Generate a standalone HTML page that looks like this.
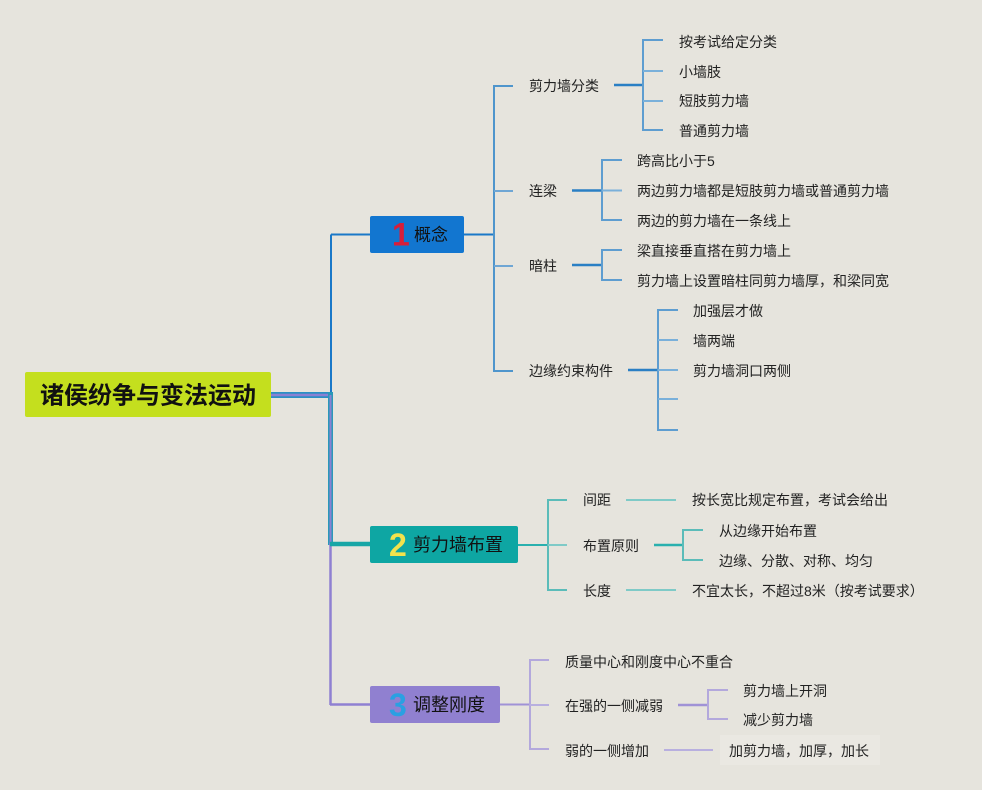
<!DOCTYPE html>
<html><head><meta charset="utf-8"><style>
html,body{margin:0;padding:0;background:#e6e4dd;}
svg{display:block;}
text{font-family:"Liberation Sans","Noto Sans CJK SC",sans-serif;fill:#222;}
.t{font-size:14px;}
</style></head><body>
<svg width="982" height="790" viewBox="0 0 982 790" xmlns="http://www.w3.org/2000/svg">
<rect width="982" height="790" fill="#e6e4dd"/>

<!-- root connector -->
<line x1="331" y1="234.5" x2="331" y2="395" stroke="#1a78c8" stroke-width="2"/>
<rect x="271" y="392" width="62" height="6" fill="#2b8fc4"/>
<line x1="271" y1="395" x2="331" y2="395" stroke="#8a80d2" stroke-width="2.5"/>
<rect x="328" y="392" width="5" height="153" fill="#2b98b8"/>
<line x1="330.5" y1="395" x2="330.5" y2="543" stroke="#8a80d2" stroke-width="2"/>
<line x1="330.5" y1="543" x2="330.5" y2="705" stroke="#8f80d2" stroke-width="2.5"/>
<line x1="331" y1="234.5" x2="371" y2="234.5" stroke="#1a78c8" stroke-width="2"/>
<line x1="330" y1="544" x2="371" y2="544" stroke="#17a6a6" stroke-width="4.5"/>
<line x1="330" y1="704.5" x2="371" y2="704.5" stroke="#8f80d2" stroke-width="2.5"/>

<!-- root -->
<rect x="25" y="372" width="246" height="45" rx="2" fill="#c4df1e"/>
<text x="148" y="396" font-size="24" font-weight="bold" text-anchor="middle" dominant-baseline="central" style="fill:#111">诸侯纷争与变法运动</text>

<!-- node 1 -->
<rect x="370" y="216" width="94" height="37" rx="2" fill="#1276d0"/>
<text x="392" y="234.5" font-size="32" font-weight="bold" dominant-baseline="central" style="fill:#d81e3a">1</text>
<text x="414" y="235" font-size="17" dominant-baseline="central" style="fill:#111">概念</text>

<!-- node 2 -->
<rect x="370" y="526" width="148" height="37" rx="2" fill="#0ea6a3"/>
<text x="389" y="545" font-size="32" font-weight="bold" dominant-baseline="central" style="fill:#f2e24c">2</text>
<text x="413" y="545" font-size="18" dominant-baseline="central" style="fill:#111">剪力墙布置</text>

<!-- node 3 -->
<rect x="370" y="686" width="130" height="37" rx="2" fill="#9080d0"/>
<text x="389" y="705" font-size="32" font-weight="bold" dominant-baseline="central" style="fill:#2aa0e2">3</text>
<text x="413" y="705" font-size="18" dominant-baseline="central" style="fill:#111">调整刚度</text>

<!-- branch 1 -->
<g fill="none">
<line x1="464" y1="234.5" x2="494" y2="234.5" stroke="#1a78c8" stroke-width="2"/>
<polyline points="513,86 494,86 494,371 513,371" stroke="#4f95cc" stroke-width="2"/>
<line x1="494" y1="191" x2="513" y2="191" stroke="#6fa6d4" stroke-width="2"/>
<line x1="494" y1="266" x2="513" y2="266" stroke="#6fa6d4" stroke-width="2"/>

<line x1="614" y1="85" x2="643" y2="85" stroke="#2a7fc4" stroke-width="2.5"/>
<polyline points="663,40 643,40 643,130 663,130" stroke="#5e9dd0" stroke-width="2"/>
<line x1="643" y1="71" x2="663" y2="71" stroke="#7ab0da" stroke-width="2"/>
<line x1="643" y1="101" x2="663" y2="101" stroke="#7ab0da" stroke-width="2"/>

<line x1="572" y1="190.5" x2="602" y2="190.5" stroke="#2a7fc4" stroke-width="2.5"/>
<polyline points="622,160 602,160 602,220 622,220" stroke="#5e9dd0" stroke-width="2"/>
<line x1="602" y1="190.5" x2="622" y2="190.5" stroke="#7ab0da" stroke-width="2"/>

<line x1="572" y1="265" x2="602" y2="265" stroke="#2a7fc4" stroke-width="2.5"/>
<polyline points="622,250 602,250 602,280 622,280" stroke="#5e9dd0" stroke-width="2"/>

<line x1="628" y1="370" x2="658" y2="370" stroke="#2a7fc4" stroke-width="2.5"/>
<polyline points="678,310 658,310 658,430 678,430" stroke="#5e9dd0" stroke-width="2"/>
<line x1="658" y1="340" x2="678" y2="340" stroke="#7ab0da" stroke-width="2"/>
<line x1="658" y1="370" x2="678" y2="370" stroke="#7ab0da" stroke-width="2"/>
<line x1="658" y1="399" x2="678" y2="399" stroke="#7ab0da" stroke-width="2"/>
</g>
<g class="t" dominant-baseline="central">
<text class="t" x="529" y="86" dominant-baseline="central">剪力墙分类</text>
<text class="t" x="679" y="42" dominant-baseline="central">按考试给定分类</text>
<text class="t" x="679" y="72" dominant-baseline="central">小墙肢</text>
<text class="t" x="679" y="101" dominant-baseline="central">短肢剪力墙</text>
<text class="t" x="679" y="131" dominant-baseline="central">普通剪力墙</text>
<text class="t" x="529" y="191" dominant-baseline="central">连梁</text>
<text class="t" x="637" y="161" dominant-baseline="central">跨高比小于5</text>
<text class="t" x="637" y="191" dominant-baseline="central">两边剪力墙都是短肢剪力墙或普通剪力墙</text>
<text class="t" x="637" y="221" dominant-baseline="central">两边的剪力墙在一条线上</text>
<text class="t" x="529" y="266" dominant-baseline="central">暗柱</text>
<text class="t" x="637" y="251" dominant-baseline="central">梁直接垂直搭在剪力墙上</text>
<text class="t" x="637" y="281" dominant-baseline="central">剪力墙上设置暗柱同剪力墙厚，和梁同宽</text>
<text class="t" x="529" y="371" dominant-baseline="central">边缘约束构件</text>
<text class="t" x="693" y="311" dominant-baseline="central">加强层才做</text>
<text class="t" x="693" y="341" dominant-baseline="central">墙两端</text>
<text class="t" x="693" y="371" dominant-baseline="central">剪力墙洞口两侧</text>
</g>

<!-- branch 2 -->
<g fill="none">
<line x1="518" y1="545" x2="548" y2="545" stroke="#2ab0ae" stroke-width="2"/>
<polyline points="567,500 548,500 548,590 567,590" stroke="#5bbcb9" stroke-width="2"/>
<line x1="548" y1="545" x2="567" y2="545" stroke="#7fcac7" stroke-width="2"/>
<line x1="626" y1="500" x2="676" y2="500" stroke="#7fcac7" stroke-width="2"/>
<line x1="654" y1="545" x2="683" y2="545" stroke="#2ab0ae" stroke-width="2.5"/>
<polyline points="703,530 683,530 683,560 703,560" stroke="#5bbcb9" stroke-width="2"/>
<line x1="626" y1="590" x2="676" y2="590" stroke="#7fcac7" stroke-width="2"/>
</g>
<text class="t" x="583" y="500" dominant-baseline="central">间距</text>
<text class="t" x="692" y="500" dominant-baseline="central">按长宽比规定布置，考试会给出</text>
<text class="t" x="583" y="546" dominant-baseline="central">布置原则</text>
<text class="t" x="719" y="531" dominant-baseline="central">从边缘开始布置</text>
<text class="t" x="719" y="561" dominant-baseline="central">边缘、分散、对称、均匀</text>
<text class="t" x="583" y="591" dominant-baseline="central">长度</text>
<text class="t" x="692" y="591" dominant-baseline="central">不宜太长，不超过8米（按考试要求）</text>

<!-- branch 3 -->
<rect x="720" y="735" width="160" height="30" fill="#eae8e2"/>
<g fill="none">
<line x1="500" y1="704.5" x2="530" y2="704.5" stroke="#a092d6" stroke-width="2"/>
<polyline points="549,660 530,660 530,749 549,749" stroke="#b3a8dc" stroke-width="2"/>
<line x1="530" y1="705" x2="549" y2="705" stroke="#b8afdf" stroke-width="2"/>
<line x1="678" y1="705" x2="708" y2="705" stroke="#a092d6" stroke-width="2.5"/>
<polyline points="728,690 708,690 708,719 728,719" stroke="#b3a8dc" stroke-width="2"/>
<line x1="664" y1="750" x2="713" y2="750" stroke="#b8afdf" stroke-width="2"/>
</g>
<text class="t" x="565" y="662" dominant-baseline="central">质量中心和刚度中心不重合</text>
<text class="t" x="565" y="706" dominant-baseline="central">在强的一侧减弱</text>
<text class="t" x="743" y="691" dominant-baseline="central">剪力墙上开洞</text>
<text class="t" x="743" y="720" dominant-baseline="central">减少剪力墙</text>
<text class="t" x="565" y="751" dominant-baseline="central">弱的一侧增加</text>
<text class="t" x="729" y="751" dominant-baseline="central">加剪力墙，加厚，加长</text>
</svg>
</body></html>
